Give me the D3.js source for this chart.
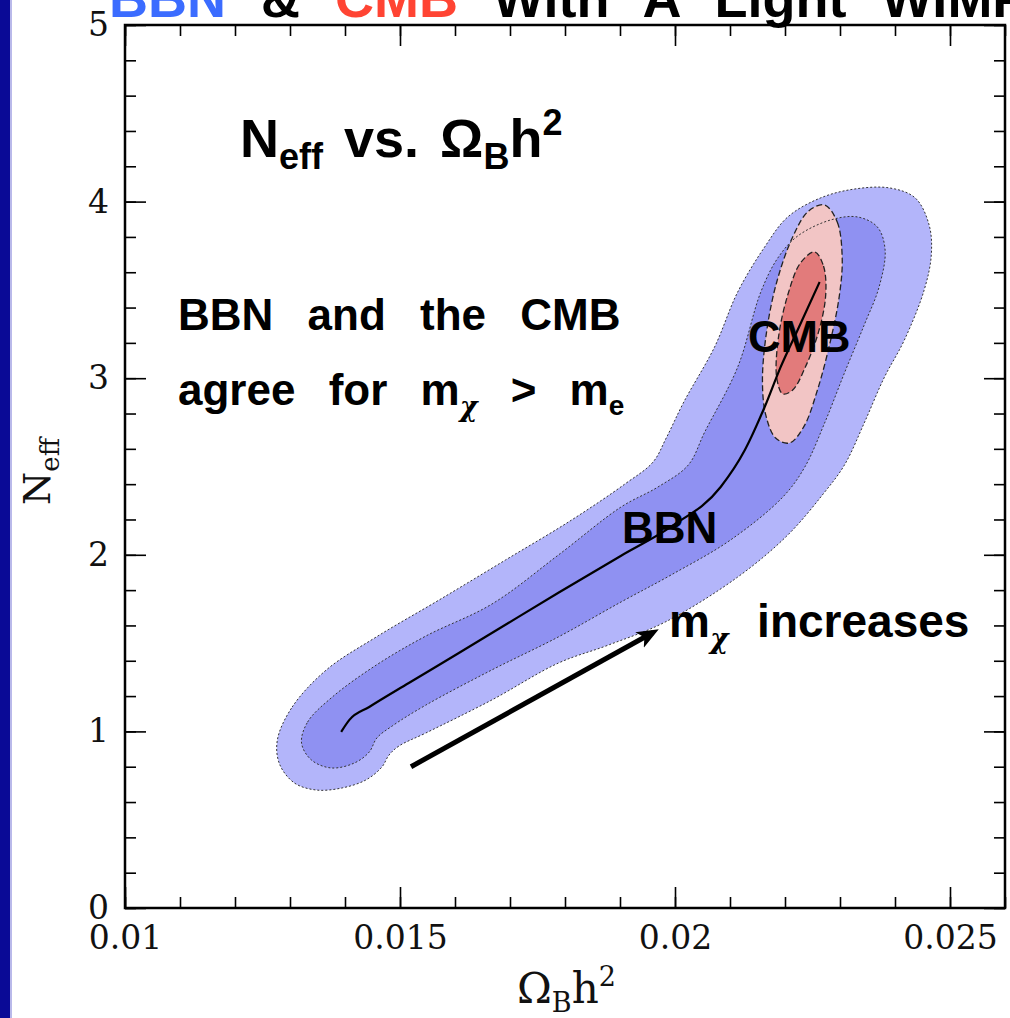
<!DOCTYPE html>
<html>
<head>
<meta charset="utf-8">
<script src="https://cdn.jsdelivr.net/npm/d3@7"></script>
<style>
  html, body { margin: 0; padding: 0; background: #fff; }
  svg { display: block; }
  .axis text { font-family: "DejaVu Serif", serif; font-size: 33px; fill: #111; }
  .axis line { stroke: #000; stroke-width: 1.6; }
  .axis path { display: none; }
  .serif { font-family: "DejaVu Serif", serif; fill: #111; }
  .note { font-family: "Liberation Sans", Arial, sans-serif; font-weight: bold; fill: #000; white-space: pre; }
  .chi { font-family: "DejaVu Serif", serif; font-weight: bold; font-style: italic; }
</style>
</head>
<body>
<svg id="chart" width="1010" height="1018"></svg>
<script>
// axis ticks
const xTicks = [0.01, 0.015, 0.02, 0.025];
const xTickLabels = ['0.01', '0.015', '0.02', '0.025'];
const yTicks = [0, 1, 2, 3, 4, 5];
const yTickLabels = ['0', '1', '2', '3', '4', '5'];

// contours, [Omega_B h^2, N_eff]
const bbnOuter = [
  [0.01277, 0.951], [0.01304, 1.138], [0.01366, 1.348], [0.01457, 1.535], [0.01571, 1.744],
  [0.01692, 1.971], [0.01812, 2.197], [0.01909, 2.401], [0.01960, 2.525], [0.01984, 2.661],
  [0.02016, 2.865], [0.02072, 3.177], [0.02114, 3.488], [0.02163, 3.743], [0.02205, 3.913],
  [0.02264, 4.020], [0.02326, 4.071], [0.02391, 4.077], [0.02437, 4.020], [0.02462, 3.868],
  [0.02466, 3.698], [0.02453, 3.499], [0.02417, 3.216], [0.02380, 3.001], [0.02344, 2.746],
  [0.02308, 2.508], [0.02268, 2.339], [0.02205, 2.112], [0.02114, 1.874], [0.01982, 1.619],
  [0.01879, 1.489], [0.01788, 1.387], [0.01667, 1.178], [0.01547, 0.991], [0.01498, 0.917],
  [0.01480, 0.866], [0.01467, 0.798], [0.01438, 0.725], [0.01395, 0.680], [0.01348, 0.668],
  [0.01308, 0.708], [0.01281, 0.815]
];
const bbnInner = [
  [0.01321, 0.934], [0.01332, 1.053], [0.01377, 1.195], [0.01457, 1.376], [0.01547, 1.540],
  [0.01667, 1.721], [0.01788, 1.999], [0.01902, 2.271], [0.01969, 2.384], [0.02024, 2.508],
  [0.02054, 2.695], [0.02114, 3.063], [0.02156, 3.488], [0.02187, 3.681], [0.02223, 3.805],
  [0.02283, 3.896], [0.02332, 3.913], [0.02368, 3.856], [0.02382, 3.726], [0.02371, 3.516],
  [0.02344, 3.301], [0.02308, 3.029], [0.02272, 2.746], [0.02236, 2.497], [0.02196, 2.327],
  [0.02101, 2.084], [0.01993, 1.886], [0.01902, 1.733], [0.01788, 1.535], [0.01667, 1.348],
  [0.01547, 1.149], [0.01486, 1.031], [0.01458, 0.963], [0.01444, 0.883], [0.01417, 0.821],
  [0.01375, 0.793], [0.01339, 0.838]
];
const cmbOuter = [
  [0.02272, 3.981], [0.02295, 3.884], [0.02304, 3.681], [0.02299, 3.471], [0.02283, 3.216],
  [0.02259, 2.933], [0.02234, 2.724], [0.02208, 2.633], [0.02183, 2.661], [0.02165, 2.792],
  [0.02159, 2.990], [0.02167, 3.273], [0.02185, 3.545], [0.02214, 3.800], [0.02243, 3.947]
];
const cmbInner = [
  [0.02254, 3.715], [0.02270, 3.635], [0.02274, 3.471], [0.02261, 3.262], [0.02237, 3.063],
  [0.02214, 2.933], [0.02196, 2.911], [0.02185, 3.001], [0.02188, 3.228], [0.02205, 3.471],
  [0.02228, 3.652]
];
// track as m_chi varies
const track = [
  [0.01393, 0.997], [0.01408, 1.065], [0.01444, 1.138], [0.01516, 1.274], [0.01607, 1.444],
  [0.01697, 1.614], [0.01788, 1.785], [0.01902, 1.995], [0.01993, 2.160], [0.02083, 2.384],
  [0.02127, 2.593], [0.02163, 2.837], [0.02192, 3.063], [0.02223, 3.273], [0.02263, 3.545]
];
const arrow = [[0.0152, 0.80], [0.0196, 1.56]];

const svg = d3.select('#chart');
const mLeft = 125, mRight = 1005, mTop = 25, mBottom = 908;

const x = d3.scaleLinear().domain([0.01, 0.026]).range([mLeft, mRight]);
const y = d3.scaleLinear().domain([0, 5]).range([mBottom, mTop]);

svg.append('rect').attr('width', 1010).attr('height', 1018).attr('fill', '#fff');
// slide edge
svg.append('rect').attr('x', 0).attr('y', 0).attr('width', 10).attr('height', 1018).attr('fill', '#0a0a96');
svg.append('rect').attr('x', 10).attr('y', 0).attr('width', 2).attr('height', 1018).attr('fill', '#b9b9ea');

// regions
const closed = d3.line().x(d => x(d[0])).y(d => y(d[1])).curve(d3.curveCatmullRomClosed.alpha(0.5));
const fills = [
  { d: bbnOuter, fill: '#b3b5fa' },
  { d: bbnInner, fill: '#8f91f2' },
  { d: cmbOuter, fill: '#f2c5c5' },
  { d: cmbInner, fill: '#e27b7b' }
];
svg.append('g').selectAll('path').data(fills).enter().append('path')
  .attr('d', d => closed(d.d))
  .attr('fill', d => d.fill);

svg.append('g').selectAll('path').data([bbnOuter, bbnInner]).enter().append('path')
  .attr('d', closed)
  .attr('fill', 'none')
  .attr('stroke', '#333')
  .attr('stroke-width', 1)
  .attr('stroke-dasharray', '2,2');

svg.append('g').selectAll('path').data([cmbOuter, cmbInner]).enter().append('path')
  .attr('d', closed)
  .attr('fill', 'none')
  .attr('stroke', '#222')
  .attr('stroke-width', 1.3)
  .attr('stroke-dasharray', '6,3');

svg.append('path')
  .attr('d', d3.line().x(d => x(d[0])).y(d => y(d[1])).curve(d3.curveMonotoneX)(track))
  .attr('fill', 'none')
  .attr('stroke', '#000')
  .attr('stroke-width', 2.2);

// arrow
svg.append('defs').append('marker')
  .attr('id', 'head')
  .attr('markerUnits', 'userSpaceOnUse')
  .attr('viewBox', '0 0 20 16')
  .attr('refX', 14).attr('refY', 8)
  .attr('markerWidth', 22).attr('markerHeight', 18)
  .attr('orient', 'auto')
  .append('path').attr('d', 'M0,0 L20,8 L0,16 L5,8 Z').attr('fill', '#000');

svg.append('line')
  .attr('x1', x(arrow[0][0])).attr('y1', y(arrow[0][1]))
  .attr('x2', x(arrow[1][0])).attr('y2', y(arrow[1][1]))
  .attr('stroke', '#000').attr('stroke-width', 5)
  .attr('marker-end', 'url(#head)');

// axes, ticks inward
const xMinor = x.ticks(16), yMinor = y.ticks(25);
const addAxis = (axis, tr) => svg.append('g').attr('class', 'axis').attr('transform', tr).call(axis);

addAxis(d3.axisBottom(x).tickValues(xMinor).tickSize(-11).tickFormat(''), `translate(0,${mBottom})`);
addAxis(d3.axisTop(x).tickValues(xMinor).tickSize(-11).tickFormat(''), `translate(0,${mTop})`);
addAxis(d3.axisLeft(y).tickValues(yMinor).tickSize(-11).tickFormat(''), `translate(${mLeft},0)`);
addAxis(d3.axisRight(y).tickValues(yMinor).tickSize(-11).tickFormat(''), `translate(${mRight},0)`);

addAxis(d3.axisBottom(x).tickValues(xTicks).tickSize(-21).tickPadding(18)
  .tickFormat((d, i) => xTickLabels[i]), `translate(0,${mBottom})`);
addAxis(d3.axisTop(x).tickValues(xTicks).tickSize(-21).tickFormat(''), `translate(0,${mTop})`);
addAxis(d3.axisLeft(y).tickValues(yTicks).tickSize(-21).tickPadding(16)
  .tickFormat((d, i) => yTickLabels[i]), `translate(${mLeft},0)`);
addAxis(d3.axisRight(y).tickValues(yTicks).tickSize(-21).tickFormat(''), `translate(${mRight},0)`);

svg.append('rect')
  .attr('x', mLeft).attr('y', mTop).attr('width', mRight - mLeft).attr('height', mBottom - mTop)
  .attr('fill', 'none').attr('stroke', '#000').attr('stroke-width', 2.5);

// axis titles
const xt = svg.append('text').attr('class', 'serif').attr('x', 517).attr('y', 1003).attr('font-size', 42);
xt.append('tspan').text('Ω');
xt.append('tspan').attr('font-size', 27).attr('dy', 9).text('B');
xt.append('tspan').attr('dy', -9).text('h');
xt.append('tspan').attr('font-size', 27).attr('dy', -17).text('2');

const yt = svg.append('text').attr('class', 'serif').attr('font-size', 38)
  .attr('transform', 'translate(50,505) rotate(-90)');
yt.append('tspan').text('N');
yt.append('tspan').attr('font-size', 26).attr('dy', 9).text('eff');

// title strip at the top of the slide
const tt = svg.append('text').attr('class', 'note').attr('x', 109).attr('y', 17)
  .attr('font-size', 54).style('word-spacing', '20px');
tt.append('tspan').attr('fill', '#3b6cff').text('BBN');
tt.append('tspan').text(' & ');
tt.append('tspan').attr('fill', '#ff4433').text('CMB');
tt.append('tspan').text(' With A Light WIMP');

// annotations
const h1 = svg.append('text').attr('class', 'note').attr('x', 240).attr('y', 157).attr('font-size', 54)
  .style('word-spacing', '6px');
h1.append('tspan').text('N');
h1.append('tspan').attr('font-size', 36).attr('dy', 12).text('eff');
h1.append('tspan').attr('dy', -12).text(' vs. Ω');
h1.append('tspan').attr('font-size', 36).attr('dy', 12).text('B');
h1.append('tspan').attr('dy', -12).text('h');
h1.append('tspan').attr('font-size', 36).attr('dy', -22).text('2');

svg.append('text').attr('class', 'note').attr('x', 178).attr('y', 330).attr('font-size', 44)
  .style('word-spacing', '22px').text('BBN and the CMB');

const l2 = svg.append('text').attr('class', 'note').attr('x', 178).attr('y', 405).attr('font-size', 44)
  .style('word-spacing', '21px');
l2.append('tspan').text('agree for m');
l2.append('tspan').attr('class', 'chi').attr('font-size', 27).attr('dy', 11).text('χ');
l2.append('tspan').attr('dy', -11).text(' > m');
l2.append('tspan').attr('font-size', 28).attr('dy', 10).text('e');

svg.append('text').attr('class', 'note').attr('x', 748).attr('y', 352).attr('font-size', 45).text('CMB');
svg.append('text').attr('class', 'note').attr('x', 622).attr('y', 543).attr('font-size', 44).text('BBN');

const l3 = svg.append('text').attr('class', 'note').attr('x', 669).attr('y', 637).attr('font-size', 46)
  .style('word-spacing', '16px');
l3.append('tspan').text('m');
l3.append('tspan').attr('class', 'chi').attr('font-size', 28).attr('dy', 11).text('χ');
l3.append('tspan').attr('dy', -11).text(' increases');
</script>
</body>
</html>
